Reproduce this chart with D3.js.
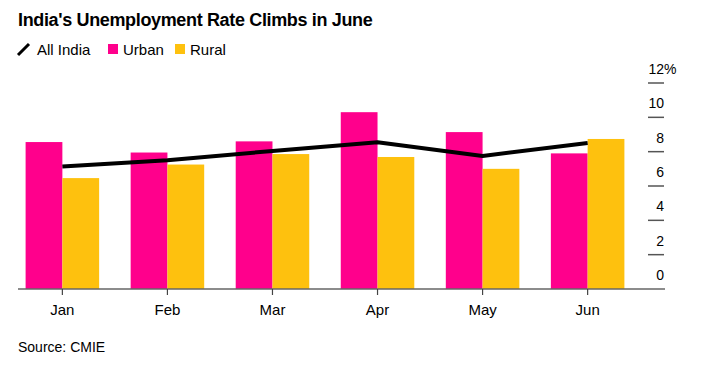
<!DOCTYPE html>
<html>
<head>
<meta charset="utf-8">
<script src="https://cdn.jsdelivr.net/npm/d3@7"></script>
<style>
    body { margin: 0; background: #fff; }
    text { font-family: "Liberation Sans", Arial, sans-serif; fill: #000; }
</style>
</head>
<body>
<svg id="chart" width="702" height="376"></svg>
<script>
// values (percent)
var months = ["Jan", "Feb", "Mar", "Apr", "May", "Jun"];
var urban = [8.56, 7.95, 8.6, 10.3, 9.14, 7.9];
var rural = [6.46, 7.25, 7.86, 7.69, 7.0, 8.74];
var allIndia = [7.13, 7.5, 8.04, 8.55, 7.75, 8.5];
var yTicks = [0, 2, 4, 6, 8, 10, 12];

var colors = { urban: "#ff008c", rural: "#fec10e", line: "#000" };

var svg = d3.select("#chart");

function translate(x, y) {
    return "translate(" + x + "," + y + ")";
}

// title + source
svg.append("text")
    .attr("x", 18)
    .attr("y", 26)
    .style("font-size", "18px")
    .style("font-weight", "bold")
    .style("letter-spacing", "-0.35px")
    .text("India's Unemployment Rate Climbs in June");

svg.append("text")
    .attr("x", 18)
    .attr("y", 352)
    .style("font-size", "14px")
    .text("Source: CMIE");

// legend
var legend = svg.append("g").attr("transform", translate(18, 55));

legend.append("line")
    .attr("x1", 0).attr("y1", 0)
    .attr("x2", 11).attr("y2", -11)
    .style("stroke", colors.line)
    .style("stroke-width", 3);

legend.append("text").attr("x", 19).style("font-size", "15px").text("All India");

[["Urban", colors.urban, 90], ["Rural", colors.rural, 157]].forEach(function(d) {
    legend.append("rect")
        .attr("x", d[2]).attr("y", -11)
        .attr("width", 10).attr("height", 10)
        .style("fill", d[1]);
    legend.append("text")
        .attr("x", d[2] + 15)
        .style("font-size", "15px")
        .text(d[0]);
});

// scales
var x = d3.scaleBand()
    .domain(months)
    .range([25.6, 624.4])
    .paddingInner(0.3)
    .paddingOuter(0);

var sub = d3.scaleBand()
    .domain(["urban", "rural"])
    .range([0, x.bandwidth()]);

var y = d3.scaleLinear()
    .domain([0, 12])
    .range([289, 83]);

// bars
var group = svg.append("g").selectAll("g")
    .data(months)
    .enter().append("g")
        .attr("transform", d => translate(x(d), 0));

group.append("rect")
    .attr("x", sub("urban"))
    .attr("width", sub.bandwidth())
    .attr("y", (_, i) => y(urban[i]))
    .attr("height", (_, i) => y(0) - y(urban[i]))
    .style("fill", colors.urban);

group.append("rect")
    .attr("x", sub("rural"))
    .attr("width", sub.bandwidth())
    .attr("y", (_, i) => y(rural[i]))
    .attr("height", (_, i) => y(0) - y(rural[i]))
    .style("fill", colors.rural);

// all india line
var line = d3.line()
    .x((_, i) => x(months[i]) + x.bandwidth() / 2)
    .y(d => y(d));

svg.append("path")
    .datum(allIndia)
    .attr("d", line)
    .style("fill", "none")
    .style("stroke", colors.line)
    .style("stroke-width", 4)
    .style("stroke-linejoin", "round");

// x axis
svg.append("line")
    .attr("x1", 18).attr("x2", 665)
    .attr("y1", y(0)).attr("y2", y(0))
    .style("stroke", "#666")
    .style("stroke-width", 1.5);

var xAxis = svg.append("g").selectAll("g")
    .data(months)
    .enter().append("g")
        .attr("transform", d => translate(x(d) + x.bandwidth() / 2, y(0)));

xAxis.append("line")
    .attr("y1", 0).attr("y2", 6)
    .style("stroke", "#444")
    .style("stroke-width", 1.2);

xAxis.append("text")
    .attr("y", 26)
    .style("text-anchor", "middle")
    .style("font-size", "15px")
    .text(d => d);

// y axis on the right, labels sit above short tick lines
var yAxis = svg.append("g").selectAll("g")
    .data(yTicks)
    .enter().append("g")
        .attr("transform", d => translate(0, y(d)));

yAxis.filter(d => d > 0).append("line")
    .attr("x1", 648).attr("x2", 664)
    .style("stroke", "#555")
    .style("stroke-width", 1.5);

yAxis.append("text")
    .attr("x", 664)
    .attr("y", -9)
    .style("text-anchor", "end")
    .style("font-size", "14px")
    .text(d => d);

yAxis.filter(d => d == 12).append("text")
    .attr("x", 664)
    .attr("y", -9)
    .style("font-size", "14px")
    .text("%");
</script>
</body>
</html>
